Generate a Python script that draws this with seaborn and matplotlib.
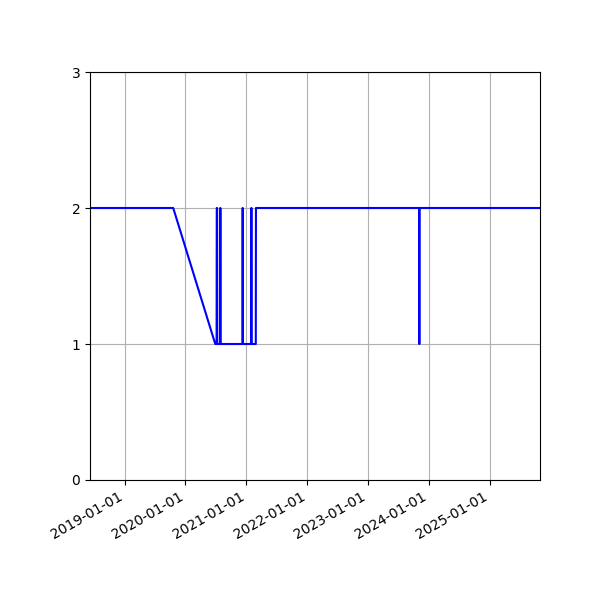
import pandas as pd
import matplotlib
matplotlib.use("Agg")
import matplotlib.pyplot as plt
import matplotlib.dates as mdates
import seaborn as sns

# status values over time
dates = ["2018-06-08", "2019-10-20", "2020-06-28",
         "2020-07-06", "2020-07-07", "2020-07-09", "2020-07-10",
         "2020-07-27", "2020-07-28", "2020-07-29", "2020-07-30",
         "2020-12-08", "2020-12-09", "2020-12-10", "2020-12-11",
         "2021-01-29", "2021-01-30", "2021-01-31", "2021-02-01",
         "2021-02-26", "2021-02-27",
         "2023-11-02", "2023-11-03", "2023-11-04", "2023-11-05",
         "2025-10-27"]
values = [2, 2, 1,
          1, 2, 2, 1,
          1, 2, 2, 1,
          1, 2, 2, 1,
          1, 2, 2, 1,
          1, 2,
          2, 1, 1, 2,
          2]

df = pd.DataFrame({"date": pd.to_datetime(dates), "value": values})

fig, ax = plt.subplots(figsize=(6, 6), dpi=100)
sns.lineplot(data=df, x="date", y="value", color="blue", linewidth=1.5,
             sort=False, estimator=None, ax=ax)
ax.set_xlim(df["date"].min(), df["date"].max())
ax.set_ylim(0, 3)
ax.set_yticks([0, 1, 2, 3])
ax.xaxis.set_major_locator(mdates.YearLocator())
ax.xaxis.set_major_formatter(mdates.DateFormatter("%Y-%m-%d"))
ax.set_xlabel("")
ax.set_ylabel("")
ax.grid(True)
fig.autofmt_xdate()
fig.subplots_adjust(left=0.15, right=0.9, bottom=0.2, top=0.88)
fig.savefig("out.png")
